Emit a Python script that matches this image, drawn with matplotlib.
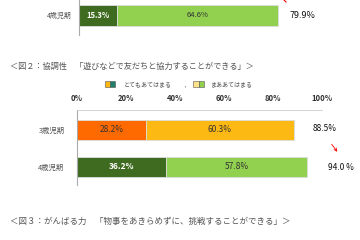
import matplotlib
matplotlib.use("Agg")
import matplotlib.pyplot as plt
from matplotlib.patches import Rectangle

plt.rcParams['font.family'] = ['Noto Sans CJK JP', 'DejaVu Sans']

# ---- data ----
top_category = ["4歳児期"]
top_very = [15.3]
top_some = [64.6]

fig2_title = "＜図２：協調性　「遊びなどで友だちと協力することができる」＞"
fig3_title = "＜図３：がんばる力　「物事をあきらめずに、挑戦することができる」＞"
legend_labels = ["とてもあてはまる", "まああてはまる"]
categories = ["3歳児期", "4歳児期"]
very = [28.2, 36.2]
some = [60.3, 57.8]
ticks = [0, 20, 40, 60, 80, 100]
tick_labels = ["0%", "20%", "40%", "60%", "80%", "100%"]
totals_text = ["88.5%", "94.0 %"]
top_total_text = ["79.9%"]

very_colors = ["#FF6A00", "#3E6B1F"]
some_colors = ["#FDB913", "#92D050"]
very_text = ["#333333", "white"]

W, H = 360, 240
fig = plt.figure(figsize=(3.6, 2.4), dpi=100)

def ax_px(x0, y0, x1, y1):
    a = fig.add_axes([x0 / W, 1 - y1 / H, (x1 - x0) / W, (y1 - y0) / H])
    a.patch.set_visible(False)
    return a

bg = fig.add_axes([0, 0, 1, 1])
bg.set_xlim(0, W)
bg.set_ylim(H, 0)
bg.axis('off')

# ---- top partial chart ----
axt = ax_px(79, 0, 328, 35)
axt.set_xlim(0, 100)
axt.set_ylim(0.53, -0.42)
axt.barh(range(len(top_category)), top_very, height=0.56, color="#3E6B1F",
         edgecolor="#dddddd", linewidth=0.6)
axt.barh(range(len(top_category)), top_some, left=top_very, height=0.56,
         color="#92D050", edgecolor="#dddddd", linewidth=0.6)
for i in range(len(top_category)):
    axt.text(top_very[i] / 2, i, f"{top_very[i]}%", ha='center', va='center',
             color='white', fontsize=5.5, fontweight='bold')
    axt.text(top_very[i] + top_some[i] / 2, i, f"{top_some[i]}%", ha='center',
             va='center', color='#333333', fontsize=5.5)
axt.set_xticks([]); axt.set_yticks([])
for s in ['top', 'right', 'bottom']:
    axt.spines[s].set_visible(False)
axt.spines['left'].set_color('#aaaaaa')
axt.spines['left'].set_linewidth(0.8)
bg.text(72, 15.5, top_category[0], ha='right', va='center', fontsize=5, color='#555555')
bg.text(302, 16, top_total_text[0], ha='center', va='center', fontsize=6.5,
        color='#111111')
bg.plot([284, 286], [0, 2], color='red', lw=0.8)

# ---- figure 2 ----
bg.text(10, 66, fig2_title, ha='left', va='center', fontsize=5.9, color='#555555')

# legend
bg.add_patch(Rectangle((105, 81), 5, 6, facecolor='#FDB913', edgecolor='#555555', lw=0.4))
bg.add_patch(Rectangle((110, 81), 5, 6, facecolor='#1F7F6A', edgecolor='#555555', lw=0.4))
bg.text(124, 84, legend_labels[0], ha='left', va='center', fontsize=4.3, color='#555555')
bg.text(183, 84.5, "，", ha='left', va='center', fontsize=4, color='#555555')
bg.add_patch(Rectangle((193, 81), 6, 6, facecolor='#FFE28A', edgecolor='#555555', lw=0.4))
bg.add_patch(Rectangle((199, 81), 5, 6, facecolor='#92D050', edgecolor='#555555', lw=0.4))
bg.text(211, 84, legend_labels[1], ha='left', va='center', fontsize=4.3, color='#555555')

ax = ax_px(77, 110, 322, 185)
ax.set_xlim(0, 100)
ax.set_ylim(1.49, -0.54)
y = list(range(len(categories)))
ax.barh(y, very, height=0.54, color=very_colors, edgecolor="#dddddd", linewidth=0.6)
ax.barh(y, some, left=very, height=0.54, color=some_colors, edgecolor="#dddddd", linewidth=0.6)
for i in y:
    ax.text(very[i] / 2, i, f"{very[i]}%", ha='center', va='center',
            color=very_text[i], fontsize=6, fontweight='bold' if i == 1 else 'normal')
    ax.text(very[i] + some[i] / 2, i, f"{some[i]}%", ha='center', va='center',
            color='#333333', fontsize=6)
ax.xaxis.tick_top()
ax.set_xticks(ticks)
ax.set_xticklabels(tick_labels, fontsize=5.5, color='#333333', fontweight='bold')
ax.tick_params(axis='x', length=0, pad=5)
ax.set_yticks(y)
ax.set_yticklabels(categories, fontsize=5.3, color='#555555')
ax.tick_params(axis='y', length=0, pad=9)
for s in ['right', 'bottom']:
    ax.spines[s].set_visible(False)
ax.spines['top'].set_color('#cccccc')
ax.spines['top'].set_linewidth(0.6)
ax.spines['left'].set_color('#aaaaaa')
ax.spines['left'].set_linewidth(0.8)

bg.text(325, 128.5, totals_text[0], ha='center', va='center', fontsize=6, color='#111111')
bg.text(341, 167, totals_text[1], ha='center', va='center', fontsize=6, color='#111111')
bg.annotate("", xy=(339, 154), xytext=(330, 142),
            arrowprops=dict(arrowstyle='->', color='red', lw=0.6, mutation_scale=5))

# ---- figure 3 ----
bg.text(10, 221, fig3_title, ha='left', va='center', fontsize=6.1, color='#555555')

fig.savefig("out.png", dpi=100)
